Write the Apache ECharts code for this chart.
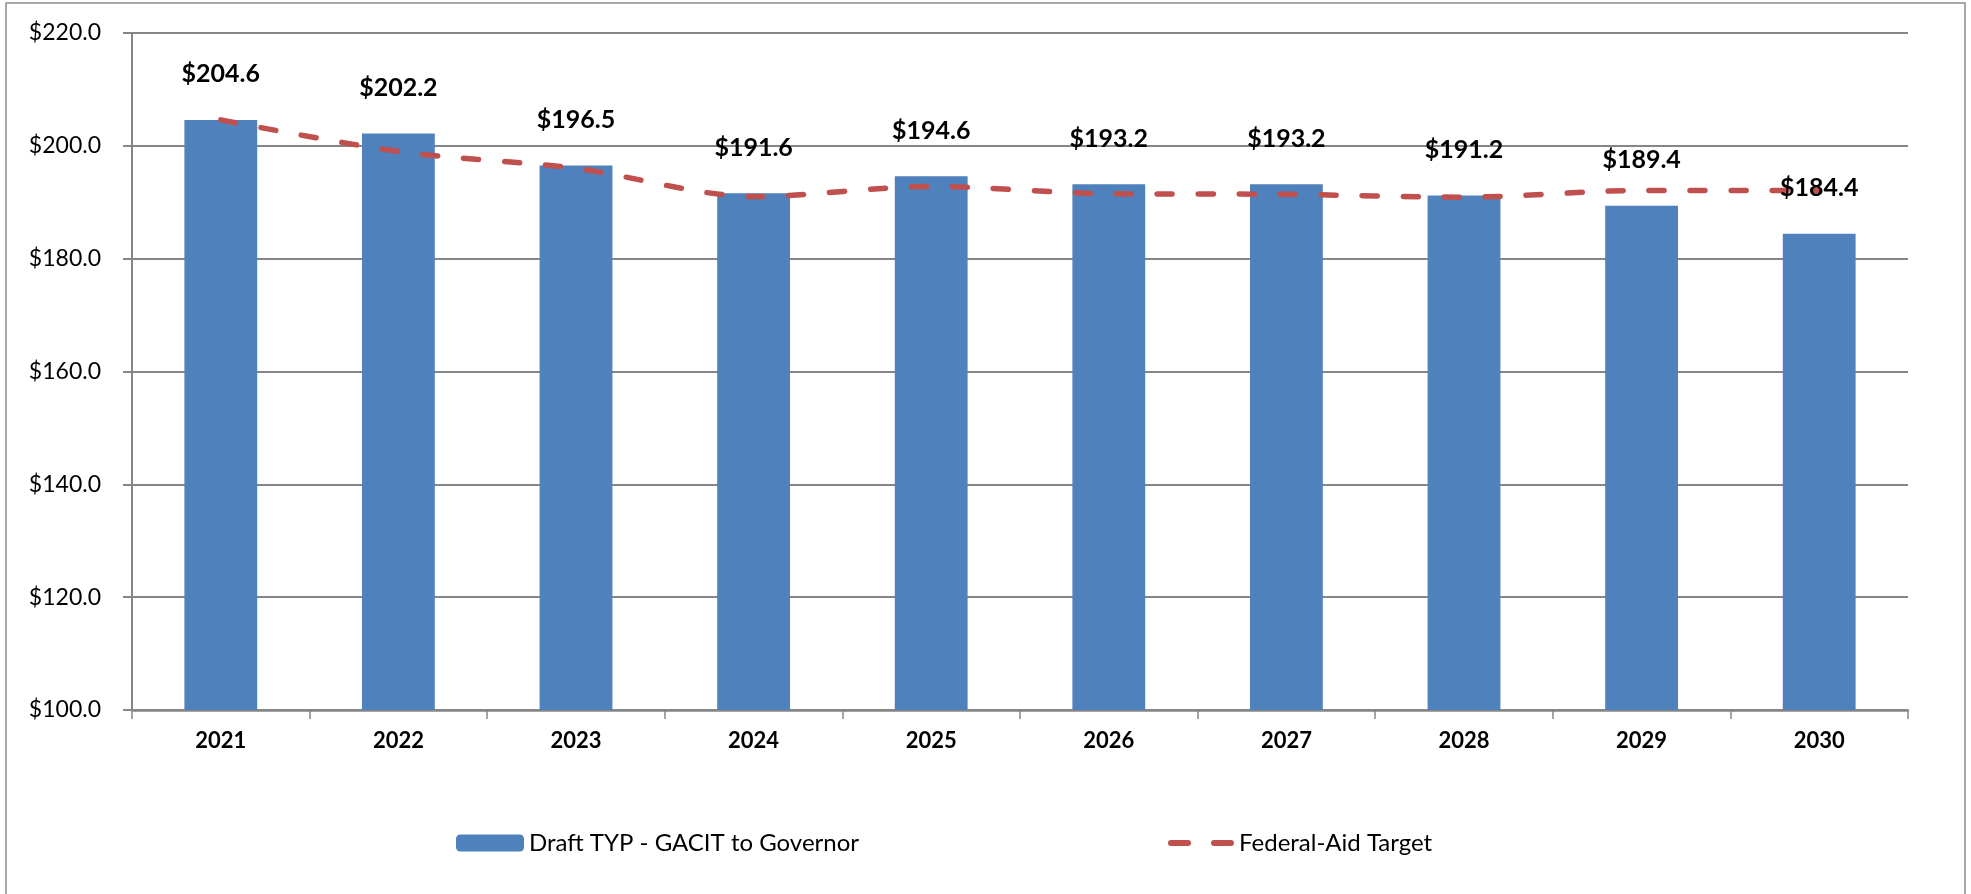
<!DOCTYPE html>
<html>
<head>
<meta charset="utf-8">
<script src="https://cdn.jsdelivr.net/npm/echarts@6/dist/echarts.min.js"></script>
<style>
html,body{margin:0;padding:0;background:#fff;}
#chart{width:1971px;height:894px;}
</style>
</head>
<body>
<div id="chart"></div>
<script>
var years = ['2021','2022','2023','2024','2025','2026','2027','2028','2029','2030'];
var draftTYP = [204.6, 202.2, 196.5, 191.6, 194.6, 193.2, 193.2, 191.2, 189.4, 184.4];
var federalAidTarget = [204.6, 199.0, 196.0, 191.0, 192.8, 191.5, 191.4, 190.9, 192.1, 192.1];
var yTicks = [100, 120, 140, 160, 180, 200, 220];

var FONT = 'Lato';
var dashIcon = 'path://M3,0h17a3,3 0 0 1 0,6h-17a3,3 0 0 1 0,-6z M46,0h17a3,3 0 0 1 0,6h-17a3,3 0 0 1 0,-6z';
var money = function (v) { return '$' + v.toFixed(1); };

var chart = echarts.init(document.getElementById('chart'), null, {renderer: 'canvas'});
chart.setOption({
  backgroundColor: '#ffffff',
  animation: false,
  graphic: [{
    type: 'rect',
    shape: {x: 6, y: 3, width: 1959, height: 900},
    style: {fill: 'none', stroke: '#8c8c8c', lineWidth: 1.5},
    silent: true
  }],
  grid: {left: 132, right: 63, top: 33, bottom: 184, containLabel: false},
  legend: [{
    data: ['Draft TYP - GACIT to Governor'],
    left: 451, top: 826,
    itemWidth: 68, itemHeight: 17, itemGap: 10,
    textStyle: {fontFamily: FONT, fontSize: 24, color: '#000'}
  }, {
    data: [{name: 'Federal-Aid Target', icon: dashIcon, itemStyle: {color: '#C0504D'}}],
    left: 1163, top: 826,
    itemWidth: 66, itemHeight: 6, itemGap: 12,
    textStyle: {fontFamily: FONT, fontSize: 24, color: '#000'}
  }],
  xAxis: {
    type: 'category',
    data: years,
    boundaryGap: true,
    axisLine: {show: true, lineStyle: {color: '#868686', width: 2.5}},
    axisTick: {show: true, length: 9, lineStyle: {color: '#868686', width: 1.5}},
    axisLabel: {fontFamily: FONT, fontSize: 22, fontWeight: 'bold', color: '#000', margin: 20}
  },
  yAxis: {
    type: 'value',
    min: yTicks[0], max: yTicks[yTicks.length - 1], interval: 20,
    axisLine: {show: true, lineStyle: {color: '#868686', width: 2}},
    axisTick: {show: true, length: 9, lineStyle: {color: '#868686', width: 2}},
    splitLine: {show: true, lineStyle: {color: '#868686', width: 2}},
    axisLabel: {
      fontFamily: FONT, fontSize: 23, color: '#000', margin: 31,
      formatter: money
    }
  },
  series: [{
    name: 'Draft TYP - GACIT to Governor',
    type: 'bar',
    data: draftTYP,
    barWidth: '41%',
    itemStyle: {color: '#4F81BD'},
    z: 2
  }, {
    name: 'Federal-Aid Target',
    type: 'line',
    data: federalAidTarget,
    smooth: 0.3,
    symbol: 'none',
    lineStyle: {color: '#C0504D', width: 5.5, type: [15, 26], cap: 'round'},
    itemStyle: {color: '#C0504D'},
    z: 3
  }, {
    name: 'labels',
    type: 'bar',
    data: draftTYP,
    barWidth: '41%',
    barGap: '-100%',
    silent: true,
    itemStyle: {color: 'rgba(0,0,0,0)'},
    label: {
      show: true, position: 'top', distance: 33,
      fontFamily: FONT, fontSize: 25, fontWeight: 'bold', color: '#000',
      formatter: function (p) { return money(p.value); }
    },
    z: 4
  }]
});
</script>
</body>
</html>
